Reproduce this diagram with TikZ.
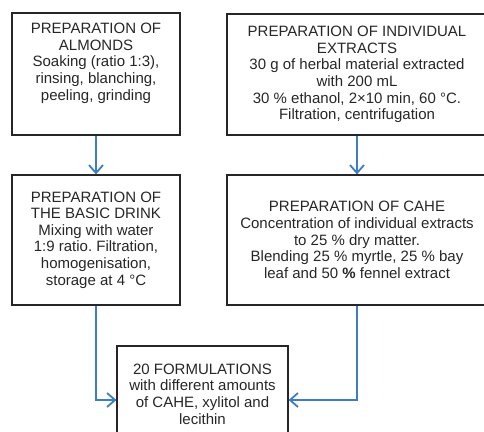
\documentclass[tikz,border=0pt]{standalone}
\usepackage{fontspec}
\setmainfont{Liberation Sans}
\usepackage{xcolor}
\usetikzlibrary{arrows.meta}
\definecolor{flowblue}{RGB}{61,125,195}
\definecolor{boxgray}{RGB}{38,38,38}
\tikzset{stage/.style={rectangle,draw=boxgray,line width=1.2pt,align=center,inner sep=0pt,text=boxgray,font=\fontsize{15}{16.6}\selectfont\frenchspacing}}
\tikzset{flow/.style={->,draw=flowblue,line width=1.8pt}}

\begin{document}
\begin{tikzpicture}[x=1pt,y=-1pt,>={Straight Barb[length=8pt,width=14pt]}]
        \useasboundingbox (0,0) rectangle (484,431);

        \node[stage,minimum width=168pt,minimum height=122pt] (almonds) at (96,74) {PREPARATION OF\\ALMONDS\\Soaking (ratio 1:3),\\rinsing, blanching,\\peeling, grinding\\[8pt]\mbox{}};
        \node[stage,minimum width=260pt,minimum height=121pt] (extracts) at (357,74.5) {PREPARATION OF INDIVIDUAL\\EXTRACTS\\30 g of herbal material extracted\\with 200 mL\\30 \% ethanol, 2×10 min, 60 °C.\\Filtration, centrifugation};
        \node[stage,minimum width=168pt,minimum height=130pt] (drink) at (96,240) {PREPARATION OF\\THE BASIC DRINK\\Mixing with water\\1:9 ratio. Filtration,\\homogenisation,\\storage at 4 °C};
        \node[stage,minimum width=260pt,minimum height=130pt] (cahe) at (357,240) {PREPARATION OF CAHE\\Concentration of individual extracts\\to 25 \% dry matter.\\Blending 25 \% myrtle, 25 \% bay\\leaf and 50 \textbf{\%} fennel extract};
        \node[stage,minimum width=171pt,minimum height=96pt] (formul) at (202.5,394) {20 FORMULATIONS\\with different amounts\\of CAHE, xylitol and\\lecithin};

        \draw [flow] (almonds) -- (drink);
        \draw [flow] (extracts) -- (cahe);
        \draw [flow] (drink.south) |- ([yshift=-6pt]formul.west);
        \draw [flow] (cahe.south) |- ([yshift=-6pt]formul.east);
    \end{tikzpicture}
\end{document}
